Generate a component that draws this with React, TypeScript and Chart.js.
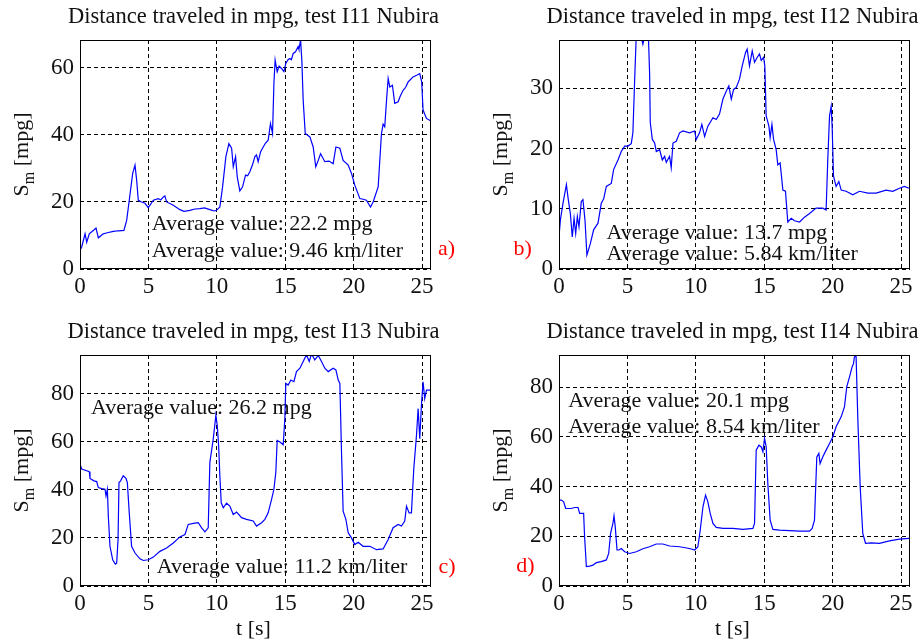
import React, { useEffect, useRef } from "react";
import { Chart, registerables } from "chart.js";

Chart.register(...registerables);

const SERIF = '"Liberation Serif", "Times New Roman", Times, serif';

// ---------- data (time in s, S_m in mpg) ----------
const tA = [0, 0.12, 0.37, 0.49, 0.68, 0.97, 1.17, 1.34, 1.7, 2.0, 2.43, 2.8, 3.21, 3.41, 3.6, 3.85, 4.02, 4.14, 4.26, 4.5, 4.75, 4.99, 5.36, 5.72, 5.9, 6.09, 6.2, 6.33, 6.82, 7.3, 7.6, 8.03, 8.4, 8.76, 9.1, 9.49, 9.8, 9.98, 10.22, 10.42, 10.66, 10.88, 11.08, 11.2, 11.37, 11.49, 11.68, 11.88, 12.1, 12.25, 12.41, 12.6, 12.78, 12.9, 13.02, 13.2, 13.39, 13.55, 13.75, 13.92, 14.07, 14.17, 14.26, 14.41, 14.55, 14.73, 14.9, 15.04, 15.2, 15.34, 15.45, 15.58, 15.75, 15.94, 16.0, 16.12, 16.21, 16.31, 16.46, 16.8, 17.04, 17.23, 17.41, 17.58, 17.89, 18.2, 18.5, 18.7, 18.99, 19.23, 19.6, 19.84, 20.08, 20.45, 20.7, 20.93, 21.23, 21.42, 21.79, 22.03, 22.15, 22.27, 22.4, 22.52, 22.64, 22.83, 23.0, 23.25, 23.4, 23.61, 23.8, 23.98, 24.1, 24.34, 24.6, 24.83, 24.97, 25.07, 25.32, 25.61];
const sA = [5.6, 6.5, 10.5, 8.0, 10.5, 11.5, 12.2, 9.3, 10.5, 10.8, 11.2, 11.4, 11.5, 14.5, 20.5, 28.5, 31, 26.5, 20.5, 20, 19.6, 18.3, 20.5, 21, 20.6, 21.5, 21.8, 20, 19, 17.7, 17.2, 17.5, 17.9, 18, 18.2, 17.7, 17.3, 17.5, 18.5, 24.5, 33.5, 37.4, 36, 30.5, 33.5, 27.5, 23.3, 24.5, 28, 27.8, 29, 31, 33.5, 34, 32, 35, 36.4, 37.5, 38.4, 43.4, 40.4, 55.3, 62.3, 58.8, 60.5, 59.8, 58.9, 61.3, 62.4, 62.8, 62.4, 64.3, 64.8, 66.3, 65.5, 68.3, 62.3, 50.3, 40.4, 39.4, 36.4, 30.5, 32.4, 34.4, 32, 32.2, 31.4, 36.4, 36, 32.4, 31, 28.5, 25, 21, 20.8, 20.5, 18.5, 20, 24.5, 40.4, 43.2, 42.4, 50.3, 56.8, 54.3, 54.8, 49.4, 49.9, 51.5, 53.3, 54.2, 55.8, 56.3, 57.3, 57.8, 58.3, 55.8, 47.4, 44.9, 44.2];

const tB = [0, 0.1, 0.29, 0.54, 0.68, 0.83, 0.97, 1.1, 1.22, 1.34, 1.46, 1.63, 1.75, 1.9, 2.04, 2.29, 2.53, 2.85, 3.09, 3.26, 3.46, 3.82, 3.99, 4.31, 4.55, 4.8, 5.04, 5.28, 5.4, 5.53, 5.65, 6.01, 6.13, 6.28, 6.52, 6.62, 6.67, 6.82, 6.99, 7.11, 7.35, 7.55, 7.72, 7.84, 8.08, 8.2, 8.33, 8.57, 8.81, 9.06, 9.54, 9.91, 10.03, 10.27, 10.44, 10.64, 10.88, 11.25, 11.49, 11.73, 11.98, 12.22, 12.41, 12.59, 12.76, 12.95, 13.19, 13.39, 13.63, 13.75, 13.92, 14.12, 14.29, 14.48, 14.65, 14.78, 14.95, 15.04, 15.14, 15.34, 15.43, 15.56, 15.68, 15.87, 15.99, 16.16, 16.36, 16.55, 16.72, 16.97, 17.21, 17.58, 17.94, 18.31, 18.79, 19.28, 19.52, 19.64, 19.77, 19.89, 19.96, 20.06, 20.25, 20.45, 20.62, 20.98, 21.47, 21.96, 22.57, 23.17, 23.9, 24.39, 24.88, 25.24, 25.58];
const sB = [5.3, 8.1, 10.9, 14, 11.5, 9.2, 5.3, 8.4, 5.9, 8.7, 7.0, 11.2, 11.5, 8.1, 2.3, 4.2, 6.5, 7.6, 10.9, 11.6, 13.7, 14.2, 16.5, 18.1, 19.5, 20.4, 20.4, 20.8, 22.6, 31.5, 39, 38.5, 37.3, 39, 39.5, 32.6, 24.3, 21.5, 20.9, 19.5, 19.8, 18.1, 18.7, 17.7, 18.7, 16.8, 20.9, 21.2, 22.6, 22.9, 22.6, 22.9, 21.5, 22.6, 24, 22, 23.7, 25.1, 24.8, 25.7, 28.2, 29.5, 30.4, 28.2, 29.8, 30.1, 31.5, 33.7, 35.9, 36.5, 33.7, 36.2, 34.3, 35.1, 35.7, 34.6, 35.1, 33.7, 25.4, 23.7, 21.8, 24, 21.5, 19.8, 17.3, 17.6, 13.1, 12.9, 7.8, 8.4, 8.0, 7.8, 8.6, 9.2, 10.1, 10.1, 9.8, 18.1, 25.4, 27, 23.7, 15.4, 13.7, 14.5, 13.1, 12.9, 12.3, 12.9, 12.6, 12.6, 13.1, 12.9, 13.4, 13.7, 13.4];

const tC = [0, 0.12, 0.49, 0.68, 0.73, 1.02, 1.22, 1.34, 1.58, 1.83, 1.9, 2.0, 2.07, 2.19, 2.39, 2.58, 2.68, 2.78, 2.85, 2.97, 3.16, 3.36, 3.46, 3.6, 3.77, 4.02, 4.38, 4.63, 4.99, 5.36, 5.84, 6.33, 6.82, 7.3, 7.67, 7.91, 8.28, 8.64, 8.89, 9.13, 9.37, 9.49, 9.74, 9.93, 10.03, 10.13, 10.22, 10.32, 10.47, 10.71, 10.95, 11.2, 11.44, 11.81, 12.17, 12.66, 12.9, 13.27, 13.51, 13.75, 14.0, 14.17, 14.31, 14.41, 14.61, 14.85, 14.97, 15.04, 15.21, 15.41, 15.63, 15.82, 16.07, 16.31, 16.55, 16.75, 16.92, 17.16, 17.41, 17.65, 17.89, 18.14, 18.5, 18.7, 18.87, 18.99, 19.11, 19.23, 19.43, 19.6, 19.84, 20.08, 20.33, 20.69, 21.18, 21.67, 22.15, 22.52, 22.88, 23.25, 23.49, 23.73, 23.86, 24.05, 24.22, 24.39, 24.59, 24.71, 24.83, 24.95, 25.07, 25.19, 25.32, 25.61];
const sC = [50.7, 48.6, 47.9, 47.5, 44.7, 43.7, 43.4, 40.9, 40.5, 40.2, 37.4, 40.2, 29, 16.5, 10.9, 9.1, 9.5, 19.3, 43, 43.7, 45.8, 44.7, 43, 30.4, 16.5, 13.7, 11.3, 10.6, 10.9, 12, 14.4, 15.8, 17.9, 20.4, 21.4, 25.6, 26, 26.3, 24.2, 22.5, 24.2, 51.4, 61.2, 71, 66.8, 58.4, 45.8, 34.6, 32.5, 34.4, 33.2, 29.7, 30.7, 28.4, 27.7, 27, 24.9, 26.3, 27.7, 30.4, 36, 40.2, 47.2, 60.5, 59.8, 58.7, 69.6, 84.2, 83.5, 85.6, 84.9, 89.1, 90.5, 93.3, 96.1, 93.3, 96.4, 94, 95.8, 93.3, 90.5, 89.1, 90.5, 89.8, 85.6, 84.2, 55.6, 31.1, 27.7, 22.1, 20, 17.2, 18.2, 16.5, 16.5, 15.1, 15.4, 19.3, 24.2, 25.6, 24.9, 27, 33.2, 30.4, 30.4, 48.6, 62.6, 73.7, 61.2, 75.1, 84.9, 77.9, 81.4, 81.4];

const tD = [0, 0.17, 0.34, 0.49, 0.9, 1.14, 1.39, 1.51, 1.8, 1.87, 2.0, 2.24, 2.48, 2.73, 3.09, 3.46, 3.63, 3.77, 3.94, 4.02, 4.11, 4.24, 4.38, 4.55, 4.8, 5.16, 5.65, 6.13, 6.62, 7.11, 7.59, 8.08, 8.81, 9.54, 9.91, 10.15, 10.32, 10.52, 10.71, 10.88, 11.05, 11.25, 11.49, 11.98, 12.71, 13.44, 14.17, 14.29, 14.41, 14.61, 14.78, 14.9, 15.02, 15.14, 15.26, 15.43, 15.63, 16.11, 16.85, 17.58, 18.31, 18.5, 18.67, 18.84, 18.99, 19.08, 19.28, 19.52, 19.77, 20.01, 20.25, 20.62, 20.86, 21.03, 21.23, 21.42, 21.52, 21.59, 21.71, 21.84, 22.01, 22.2, 22.4, 22.81, 23.42, 24.15, 24.88, 25.58];
const sD = [34.6, 34.6, 33.9, 31.2, 31.2, 31.6, 31.6, 29.2, 29.2, 19.8, 7.8, 8.0, 8.4, 9.4, 9.8, 10.5, 13.1, 21.2, 25.2, 28.2, 23.9, 14.5, 14.5, 15.1, 13.8, 13.1, 13.8, 15, 15.8, 16.9, 16.9, 16.1, 15.8, 15.1, 14.5, 15.8, 22.5, 31.9, 36.6, 33.9, 29.2, 25.2, 23.6, 23.2, 23.2, 22.8, 23.2, 25.2, 54.7, 56.7, 56, 54, 59.4, 56, 41.3, 26.5, 22.8, 22.5, 22.3, 22.1, 22.1, 23.2, 26.5, 52, 53.4, 49.3, 52, 54.7, 57.4, 60.1, 64.1, 68.1, 72.1, 80.2, 84.2, 88.2, 89.5, 92.2, 92.5, 66.8, 39.9, 21.2, 17.2, 17.4, 17.2, 18.2, 18.9, 19.2];

// ---------- ticks and labels ----------
const xTicks = [0, 5, 10, 15, 20, 25];
const yTicksA = [0, 20, 40, 60];
const yTicksB = [0, 10, 20, 30];
const yTicksC = [0, 20, 40, 60, 80];
const yTicksD = [0, 20, 40, 60, 80];

const titleA = "Distance traveled in mpg, test I11 Nubira";
const titleB = "Distance traveled in mpg, test I12 Nubira";
const titleC = "Distance traveled in mpg, test I13 Nubira";
const titleD = "Distance traveled in mpg, test I14 Nubira";

const notesA = ["Average value: 22.2 mpg", "Average value: 9.46 km/liter"];
const notesB = ["Average value: 13.7 mpg", "Average value: 5.84 km/liter"];
const notesC = ["Average value: 26.2 mpg", "Average value: 11.2 km/liter"];
const notesD = ["Average value: 20.1 mpg", "Average value: 8.54 km/liter"];

const xLabel = "t [s]";
const X_MAX = 25.65;

type Note = { text: string; t: number; v: number };
type PanelDef = {
  x: number; y: number; w: number; h: number;
  area: { l: number; r: number; t: number; b: number };
  t: number[]; s: number[]; yMax: number; yTicks: number[];
  title: string; notes: Note[]; letter: Note; xLabel: string | null;
};

const panels: PanelDef[] = [
  {
    x: 0, y: 0, w: 460, h: 320, area: { l: 80, r: 431, t: 40, b: 269 },
    t: tA, s: sA, yMax: 68.3, yTicks: yTicksA, title: titleA,
    notes: [{ text: notesA[0], t: 5.24, v: 11.6 }, { text: notesA[1], t: 5.24, v: 3.7 }],
    letter: { text: "a)", t: 26.16, v: 4.2 }, xLabel: null,
  },
  {
    x: 460, y: 0, w: 461, h: 320, area: { l: 99, r: 450, t: 40, b: 269 },
    t: tB, s: sB, yMax: 38, yTicks: yTicksB, title: titleB,
    notes: [{ text: notesB[0], t: 3.47, v: 5.05 }, { text: notesB[1], t: 3.47, v: 1.45 }],
    letter: { text: "b)", t: -3.32, v: 2.3 }, xLabel: null,
  },
  {
    x: 0, y: 320, w: 460, h: 324, area: { l: 80, r: 431, t: 35, b: 266 },
    t: tC, s: sC, yMax: 96, yTicks: yTicksC, title: titleC,
    notes: [{ text: notesC[0], t: 0.8, v: 71.4 }, { text: notesC[1], t: 5.61, v: 5.3 }],
    letter: { text: "c)", t: 26.19, v: 5.4 }, xLabel: xLabel,
  },
  {
    x: 460, y: 320, w: 461, h: 324, area: { l: 99, r: 450, t: 35, b: 266 },
    t: tD, s: sD, yMax: 93, yTicks: yTicksD, title: titleD,
    notes: [{ text: notesD[0], t: 0.68, v: 72.2 }, { text: notesD[1], t: 0.68, v: 61.5 }],
    letter: { text: "d)", t: -3.12, v: 5.8 }, xLabel: xLabel,
  },
];

const TEXT = "#111";

const panelText = {
  id: "panelText",
  beforeDraw(chart: any, _args: any, o: any) {
    const ctx = chart.ctx;
    const xs = chart.scales.x;
    const ys = chart.scales.y;
    ctx.save();
    ctx.fillStyle = "#fff";
    ctx.fillRect(0, 0, chart.width, chart.height);
    ctx.font = `22px ${SERIF}`;
    ctx.textAlign = "left";
    ctx.textBaseline = "alphabetic";
    ctx.fillStyle = TEXT;
    o.notes.forEach((n: Note) => ctx.fillText(n.text, xs.getPixelForValue(n.t), ys.getPixelForValue(n.v)));
    ctx.fillStyle = "#ff0000";
    ctx.fillText(o.letter.text, xs.getPixelForValue(o.letter.t), ys.getPixelForValue(o.letter.v));
    ctx.restore();
  },
  afterDraw(chart: any, _args: any, o: any) {
    const ctx = chart.ctx;
    const ca = chart.chartArea;
    ctx.save();
    ctx.strokeStyle = "#000";
    ctx.lineWidth = 1;
    ctx.setLineDash([]);
    const l = Math.round(ca.left) + 0.5;
    const r = Math.round(ca.right) - 0.5;
    const t = Math.round(ca.top) + 0.5;
    const b = Math.round(ca.bottom) - 0.5;
    ctx.strokeRect(l, t, r - l, b - t);

    const cx = (ca.left + ca.right) / 2 - 2;
    ctx.fillStyle = TEXT;
    ctx.font = `22.5px ${SERIF}`;
    ctx.textAlign = "center";
    ctx.textBaseline = "alphabetic";
    ctx.fillText(o.title, cx, ca.top - 17);
    ctx.font = `22px ${SERIF}`;
    if (o.xLabel) ctx.fillText(o.xLabel, cx, ca.bottom + 49);

    // y label: S_m [mpg]
    ctx.translate(ca.left - 52, (ca.top + ca.bottom) / 2);
    ctx.rotate(-Math.PI / 2);
    ctx.textAlign = "left";
    const big = `22px ${SERIF}`;
    const small = `16px ${SERIF}`;
    ctx.font = big;
    const wS = ctx.measureText("S").width;
    const wRest = ctx.measureText(" [mpg]").width;
    ctx.font = small;
    const wm = ctx.measureText("m").width;
    const total = wS + wm + wRest;
    let x0 = -total / 2;
    ctx.font = big;
    ctx.fillText("S", x0, 0);
    x0 += wS;
    ctx.font = small;
    ctx.fillText("m", x0, 6);
    x0 += wm;
    ctx.font = big;
    ctx.fillText(" [mpg]", x0, 0);
    ctx.restore();
  },
};

function Panel({ p }: { p: PanelDef }) {
  const ref = useRef<HTMLCanvasElement | null>(null);
  useEffect(() => {
    if (!ref.current) return;
    const grid = { color: "#000", lineWidth: 1, drawTicks: false, tickLength: 0 };
    const border = { display: false, dash: [4, 3] };
    const tickFont = { family: SERIF, size: 23 };
    const chart = new Chart(ref.current, {
      type: "line",
      data: {
        datasets: [
          {
            data: p.t.map((t, i) => ({ x: t, y: p.s[i] })),
            borderColor: "#0000ff",
            borderWidth: 1.2,
            pointRadius: 0,
            tension: 0,
            fill: false,
          },
        ],
      },
      options: {
        responsive: false,
        animation: false,
        events: [],
        layout: { padding: { left: 0, top: p.area.t, right: p.w - p.area.r, bottom: 0 } },
        plugins: {
          legend: { display: false },
          tooltip: { enabled: false },
          title: { display: false },
          panelText: { title: p.title, notes: p.notes, letter: p.letter, xLabel: p.xLabel },
        } as any,
        scales: {
          x: {
            type: "linear",
            min: 0,
            max: X_MAX,
            afterBuildTicks: (s: any) => { s.ticks = xTicks.map((v) => ({ value: v })); },
            afterFit: (s: any) => { s.height = p.h - p.area.b; },
            grid,
            border,
            ticks: { font: tickFont, color: TEXT, padding: 4, maxRotation: 0, autoSkip: false },
          },
          y: {
            type: "linear",
            min: 0,
            max: p.yMax,
            afterBuildTicks: (s: any) => { s.ticks = p.yTicks.map((v) => ({ value: v })); },
            afterFit: (s: any) => { s.width = p.area.l; },
            grid,
            border,
            ticks: { font: tickFont, color: TEXT, padding: 6, autoSkip: false },
          },
        },
      } as any,
      plugins: [panelText],
    });
    return () => chart.destroy();
  }, []);
  return (
    <canvas
      ref={ref}
      width={p.w}
      height={p.h}
      style={{ position: "absolute", left: p.x, top: p.y, width: p.w, height: p.h, display: "block" }}
    />
  );
}

export default function App() {
  return (
    <div style={{ position: "fixed", left: 0, top: 0, width: 921, height: 644, background: "#fff", overflow: "hidden" }}>
      {panels.map((p, i) => (
        <Panel key={i} p={p} />
      ))}
    </div>
  );
}
